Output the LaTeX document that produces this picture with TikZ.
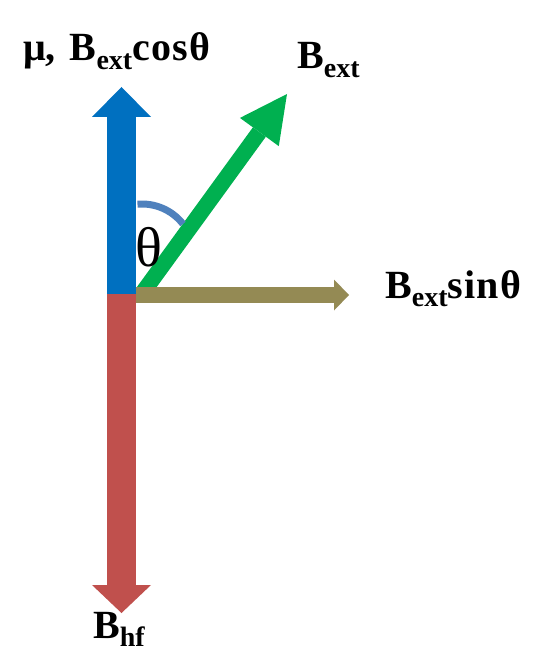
\documentclass[tikz,border=0pt]{standalone}
\usepackage{fontspec}
\setmainfont{Liberation Serif}
\newfontfamily\trigfont[LetterSpace=3]{Liberation Serif}
\usetikzlibrary{arrows.meta}
\definecolor{MomentBlue}{HTML}{0070C0}
\definecolor{HyperRed}{HTML}{C0504D}
\definecolor{ExtGreen}{HTML}{00B050}
\definecolor{SinOlive}{HTML}{948A54}
\definecolor{AngleBlue}{HTML}{4F81BD}
\newcommand{\lowsub}[1]{\raisebox{-0.22em}{\fontsize{28}{28}\selectfont #1}}
\newcommand{\trig}[1]{{\trigfont\bfseries #1}}
\tikzset{
  fieldlabel/.style={font=\fontsize{40}{42}\selectfont\bfseries, inner sep=0pt},
  anglelabel/.style={font=\fontsize{56}{60}\selectfont, inner sep=0pt},
  fatvec/.style={line width=#1},
  angarc/.style={draw=AngleBlue, line width=7pt}
}

\begin{document}
\begin{tikzpicture}[x=1pt,y=1pt]
  \useasboundingbox (0,0) rectangle (558,-652);

  % points (pixel positions, y downward)
  \coordinate (O) at (136,-295);
  \coordinate (muFoot) at (121.5,-294);
  \coordinate (muTip) at (121.5,-87);
  \coordinate (hfTip) at (121.5,-613);
  \coordinate (extFoot) at (141,-295);
  \coordinate (extTip) at (287,-94);
  \coordinate (sinTip) at (349,-295);

  % vectors
  \draw[fatvec=16pt, draw=ExtGreen, -{Triangle[length=47pt,width=48pt,line width=0pt]}] (extFoot) -- (extTip);
  \draw[fatvec=29pt, draw=MomentBlue, -{Triangle[length=30pt,width=59pt,line width=0pt]}] (muFoot) -- (muTip);
  \draw[fatvec=29pt, draw=HyperRed, -{Triangle[length=28pt,width=59pt,line width=0pt]}] (muFoot) -- (hfTip);
  \draw[fatvec=16pt, draw=SinOlive, -{Triangle[length=15pt,width=31pt,line width=0pt]}] (O) -- (sinTip);

  % angle
  \draw[angarc] (142,-256) ++(95:52) arc[start angle=95, end angle=38, radius=52];
  \node[anglelabel] (theta) at (148.5,-247) {θ};

  % labels
  \node[fieldlabel, anchor=base west] (muLbl) at (23,-61) {μ,\hspace{0.35em}B\lowsub{ext}\trig{cosθ}};
  \node[fieldlabel, anchor=base west] (extLbl) at (297,-69) {B\lowsub{ext}};
  \node[fieldlabel, anchor=base west] (sinLbl) at (385,-298) {B\lowsub{ext}\trig{sinθ}};
  \node[fieldlabel, anchor=base west] (hfLbl) at (93,-638) {B\lowsub{hf}};
\end{tikzpicture}
\end{document}
